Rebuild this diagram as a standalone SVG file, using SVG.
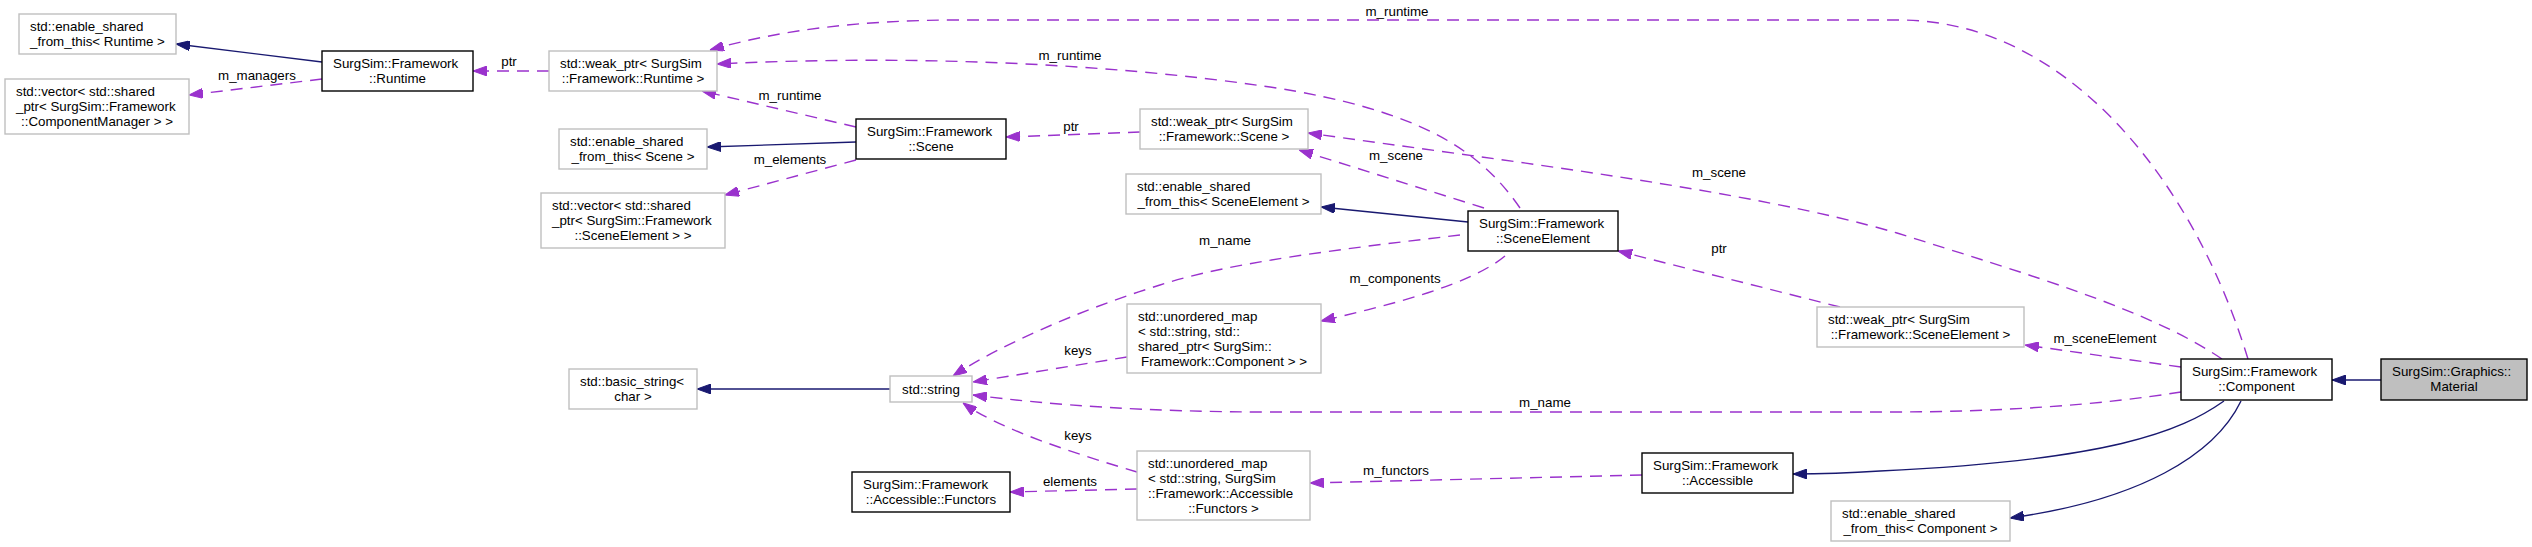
<svg xmlns="http://www.w3.org/2000/svg" width="2532" height="547" viewBox="0 0 2532 547">
<style>
.n{fill:#fff;stroke:#bfbfbf;stroke-width:1.4}
.d{fill:#fff;stroke:#000;stroke-width:1.4}
.g{fill:#bfbfbf;stroke:#000;stroke-width:1.4}
text{font-family:"Liberation Sans",Arial,Helvetica,sans-serif;font-size:13.33px;fill:#000}
.c{text-anchor:middle}
.inh{fill:none;stroke:#191970;stroke-width:1.4;marker-end:url(#ai)}
.use{fill:none;stroke:#9a32cd;stroke-width:1.4;stroke-dasharray:12,8;marker-end:url(#au)}
</style>
<defs>
<marker id="ai" markerUnits="userSpaceOnUse" markerWidth="14" markerHeight="10" viewBox="0 0 14 10" refX="14" refY="5" orient="auto"><path d="M0,0 L14,5 L0,10 z" fill="#191970" stroke="#191970"/></marker>
<marker id="au" markerUnits="userSpaceOnUse" markerWidth="14" markerHeight="10" viewBox="0 0 14 10" refX="14" refY="5" orient="auto"><path d="M0,0 L14,5 L0,10 z" fill="#9a32cd" stroke="#9a32cd"/></marker>
</defs>
<rect width="2532" height="547" fill="#fff"/>
<g id="edges">
<path class="inh" d="M322,62 L176,44"/>
<path class="use" d="M322,79 L189,95"/>
<path class="use" d="M549,71 L473,71"/>
<path class="use" d="M856,127 L702,91"/>
<path class="inh" d="M856,142 L707,147"/>
<path class="use" d="M856,160 L725,195"/>
<path class="use" d="M1140,132 L1006,137"/>
<path class="use" d="M1520,208 C1480,150 1420,110 1270,87 C1100,62 900,55 717,64"/>
<path class="use" d="M2248,359 C2190,170 2060,20 1900,20 L960,20 C860,20 780,30 710,50"/>
<path class="use" d="M1484,208 L1299,150"/>
<path class="use" d="M2222,359 C2150,310 2030,275 1897,233 C1750,190 1500,160 1308,133"/>
<path class="inh" d="M1468,222 L1321,207"/>
<path class="use" d="M1460,235 C1350,248 1230,262 1160,285 C1080,310 1000,345 953,376"/>
<path class="use" d="M1505,256 C1470,285 1390,305 1321,321"/>
<path class="use" d="M1127,357 L973,382"/>
<path class="use" d="M2181,392 C2100,405 2000,412 1890,412 L1270,412 C1150,412 1050,405 973,395"/>
<path class="use" d="M1137,472 C1080,455 1000,430 963,403"/>
<path class="use" d="M1137,489 L1010,492"/>
<path class="use" d="M1642,475 L1310,483"/>
<path class="inh" d="M2224,401 C2180,432 2110,460 1880,471 C1850,473 1820,474 1793,474"/>
<path class="use" d="M1840,307 L1618,251"/>
<path class="use" d="M2181,367 L2025,345"/>
<path class="inh" d="M2381,380 L2332,380"/>
<path class="inh" d="M2241,401 C2215,455 2140,500 2010,518"/>
<path class="inh" d="M890,389 L697,389"/>
<text class="c" x="257" y="80">m_managers</text>
<text class="c" x="509" y="66">ptr</text>
<text class="c" x="1397" y="16">m_runtime</text>
<text class="c" x="1070" y="60">m_runtime</text>
<text class="c" x="790" y="100">m_runtime</text>
<text class="c" x="790" y="164">m_elements</text>
<text class="c" x="1071" y="131">ptr</text>
<text class="c" x="1396" y="160">m_scene</text>
<text class="c" x="1719" y="177">m_scene</text>
<text class="c" x="1225" y="245">m_name</text>
<text class="c" x="1719" y="253">ptr</text>
<text class="c" x="1395" y="283">m_components</text>
<text class="c" x="2105" y="343">m_sceneElement</text>
<text class="c" x="1078" y="355">keys</text>
<text class="c" x="1545" y="407">m_name</text>
<text class="c" x="1078" y="440">keys</text>
<text class="c" x="1070" y="486">elements</text>
<text class="c" x="1396" y="475">m_functors</text>
</g>
<g id="n1"><rect class="n" x="19" y="14" width="157" height="40"/><text x="30" y="31.2">std::enable_shared</text><text class="c" x="97.5" y="46.2">_from_this&lt; Runtime &gt;</text></g>
<g id="n2"><rect class="n" x="5" y="79" width="184" height="55"/><text x="16" y="96.2">std::vector&lt; std::shared</text><text x="16" y="111.2">_ptr&lt; SurgSim::Framework</text><text class="c" x="97" y="126.2">::ComponentManager &gt; &gt;</text></g>
<g id="n3"><rect class="d" x="322" y="51" width="151" height="40"/><text x="333" y="68.2">SurgSim::Framework</text><text class="c" x="397.5" y="83.2">::Runtime</text></g>
<g id="n4"><rect class="n" x="549" y="51" width="168" height="40"/><text x="560" y="68.2">std::weak_ptr&lt; SurgSim</text><text class="c" x="633" y="83.2">::Framework::Runtime &gt;</text></g>
<g id="n5"><rect class="n" x="559" y="129" width="148" height="40"/><text x="570" y="146.2">std::enable_shared</text><text class="c" x="633" y="161.2">_from_this&lt; Scene &gt;</text></g>
<g id="n6"><rect class="n" x="541" y="193" width="184" height="55"/><text x="552" y="210.2">std::vector&lt; std::shared</text><text x="552" y="225.2">_ptr&lt; SurgSim::Framework</text><text class="c" x="633" y="240.2">::SceneElement &gt; &gt;</text></g>
<g id="n7"><rect class="d" x="856" y="119" width="150" height="40"/><text x="867" y="136.2">SurgSim::Framework</text><text class="c" x="931" y="151.2">::Scene</text></g>
<g id="n8"><rect class="n" x="1140" y="109" width="168" height="40"/><text x="1151" y="126.2">std::weak_ptr&lt; SurgSim</text><text class="c" x="1224" y="141.2">::Framework::Scene &gt;</text></g>
<g id="n9"><rect class="n" x="1126" y="174" width="195" height="40"/><text x="1137" y="191.2">std::enable_shared</text><text class="c" x="1223.5" y="206.2">_from_this&lt; SceneElement &gt;</text></g>
<g id="n10"><rect class="d" x="1468" y="211" width="150" height="40"/><text x="1479" y="228.2">SurgSim::Framework</text><text class="c" x="1543" y="243.2">::SceneElement</text></g>
<g id="n11"><rect class="n" x="1127" y="304" width="194" height="69"/><text x="1138" y="320.7">std::unordered_map</text><text x="1138" y="335.7">&lt; std::string, std::</text><text x="1138" y="350.7">shared_ptr&lt; SurgSim::</text><text class="c" x="1224" y="365.7">Framework::Component &gt; &gt;</text></g>
<g id="n12"><rect class="n" x="569" y="369" width="128" height="40"/><text x="580" y="386.2">std::basic_string&lt;</text><text class="c" x="633" y="401.2">char &gt;</text></g>
<g id="n13"><rect class="n" x="890" y="376" width="82" height="26"/><text class="c" x="931" y="393.7">std::string</text></g>
<g id="n14"><rect class="d" x="852" y="472" width="158" height="40"/><text x="863" y="489.2">SurgSim::Framework</text><text class="c" x="931" y="504.2">::Accessible::Functors</text></g>
<g id="n15"><rect class="n" x="1137" y="451" width="173" height="69"/><text x="1148" y="467.7">std::unordered_map</text><text x="1148" y="482.7">&lt; std::string, SurgSim</text><text x="1148" y="497.7">::Framework::Accessible</text><text class="c" x="1223.5" y="512.7">::Functors &gt;</text></g>
<g id="n16"><rect class="d" x="1642" y="453" width="151" height="40"/><text x="1653" y="470.2">SurgSim::Framework</text><text class="c" x="1717.5" y="485.2">::Accessible</text></g>
<g id="n17"><rect class="n" x="1817" y="307" width="207" height="40"/><text x="1828" y="324.2">std::weak_ptr&lt; SurgSim</text><text class="c" x="1920.5" y="339.2">::Framework::SceneElement &gt;</text></g>
<g id="n18"><rect class="d" x="2181" y="359" width="151" height="41"/><text x="2192" y="376.2">SurgSim::Framework</text><text class="c" x="2256.5" y="391.2">::Component</text></g>
<g id="n19"><rect class="g" x="2381" y="359" width="146" height="41"/><text x="2392" y="376.2">SurgSim::Graphics::</text><text class="c" x="2454" y="391.2">Material</text></g>
<g id="n20"><rect class="n" x="1831" y="501" width="179" height="40"/><text x="1842" y="518.2">std::enable_shared</text><text class="c" x="1920.5" y="533.2">_from_this&lt; Component &gt;</text></g>
</svg>
